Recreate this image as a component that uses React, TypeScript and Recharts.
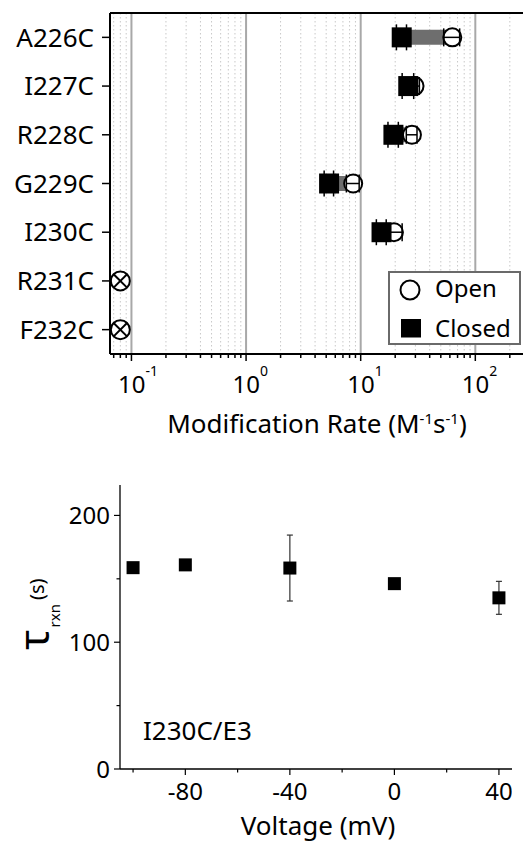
import { ScatterChart, Scatter, XAxis, YAxis, ErrorBar, ReferenceLine, CartesianGrid, Legend } from "recharts"

const FONT = "'Noto Sans', sans-serif"

// top panel: modification rates (M-1 s-1)
const mutants = ["A226C", "I227C", "R228C", "G229C", "I230C", "R231C", "F232C"]
const closedRate = [22.8, 26, 19.3, 5.3, 15.2]
const closedErr = [2.3, 3, 2, 0.5, 1.5]
const openRate = [63, 29.5, 28, 8.6, 19.5]
const openErr = [10, 3, 3, 1.1, 3.5]
const noRate = [0.08, 0.08] // R231C, F232C: no modification
const decades = [0.1, 1, 10, 100]
const minorTicks = [0.07, 0.08, 0.09, 0.2, 0.3, 0.4, 0.5, 0.6, 0.7, 0.8, 0.9, 2, 3, 4, 5, 6, 7, 8, 9, 20, 30, 40, 50, 60, 70, 80, 90, 200]

// bottom panel: tau vs voltage
const voltage = [-100, -80, -40, 0, 40]
const tau = [158.8, 161, 158.5, 146.2, 135]
const tauErr = [1, 2.5, 26, 1.5, 13]
const voltTicks = [-100, -80, -60, -40, -20, 0, 20, 40]
const voltLabels = [-80, -40, 0, 40]
const tauTicks = [0, 50, 100, 150, 200]
const tauLabels = [0, 100, 200]

const closedData = closedRate.map((rate, i) => ({ row: i, rate, err: closedErr[i] }))
const openData = openRate.map((rate, i) => ({ row: i, rate }))
const noData = noRate.map((rate, i) => ({ row: closedRate.length + i, rate }))
const spans = closedRate.map((rate, i) => [
    { row: i, rate },
    { row: i, rate: openRate[i] },
])
// open error bars sit on top of the white circles, so they are drawn as their own series
const openBars = openRate.map((rate, i) => [
    { row: i, rate: rate - openErr[i] },
    { row: i, rate: rate + openErr[i] },
])
const tauData = voltage.map((v, i) => ({ v, tau: tau[i], err: tauErr[i] }))

const NoDot = () => <g />

const OpenDot = ({ cx, cy }: any) => <circle cx={cx} cy={cy} r={9} fill="#fff" stroke="#000" strokeWidth={2} />

const CapTick = ({ cx, cy }: any) => <line x1={cx} x2={cx} y1={cy - 9} y2={cy + 9} stroke="#000" strokeWidth={1.5} />

const ClosedDot = ({ cx, cy }: any) => <rect x={cx - 10} y={cy - 10} width={20} height={20} fill="#000" />

const CrossDot = ({ cx, cy }: any) => {
    const d = 6.7
    return (
        <g stroke="#000" strokeWidth={2}>
            <circle cx={cx} cy={cy} r={9.5} fill="#fff" />
            <line x1={cx - d} y1={cy - d} x2={cx + d} y2={cy + d} />
            <line x1={cx - d} y1={cy + d} x2={cx + d} y2={cy - d} />
        </g>
    )
}

const SmallSquare = ({ cx, cy }: any) => <rect x={cx - 6.5} y={cy - 6.5} width={13} height={13} fill="#000" />

const LogTick = ({ x, y, payload }: any) => {
    const v = payload.value
    const major = decades.includes(v)
    return (
        <g>
            <line x1={x} x2={x} y1={y} y2={y + (major ? 7 : 4)} stroke="#000" strokeWidth={1.5} />
            {major && (
                <text x={x - 13.5} y={y + 39} fontSize={24} fontFamily={FONT} fill="#000">
                    10
                    <tspan dy={-17} fontSize={14}>
                        {Math.round(Math.log10(v))}
                    </tspan>
                </text>
            )}
        </g>
    )
}

const RateLabel = () => (
    <text x={317} y={433} textAnchor="middle" fontSize={26} fontFamily={FONT} fill="#000">
        Modification Rate (M
        <tspan dy={-9} fontSize={15}>-1</tspan>
        <tspan dy={9}>s</tspan>
        <tspan dy={-9} fontSize={15}>-1</tspan>
        <tspan dy={9}>)</tspan>
    </text>
)

const LegendBox = () => (
    <div style={{ width: 133, height: 74, boxSizing: "border-box", border: "2px solid #6a6a6a", background: "#fff" }}>
        <svg width={129} height={70} style={{ display: "block", overflow: "visible" }}>
            <circle cx={20} cy={17} r={9.5} fill="#fff" stroke="#000" strokeWidth={2} />
            <text x={45} y={24} fontSize={24} fontFamily={FONT} fill="#000">Open</text>
            <rect x={11} y={46} width={20} height={18.5} fill="#000" />
            <text x={45} y={64} fontSize={24} fontFamily={FONT} fill="#000">Closed</text>
        </svg>
    </div>
)

const VoltTick = ({ x, y, payload }: any) => {
    const major = voltLabels.includes(payload.value)
    return (
        <g>
            <line x1={x} x2={x} y1={y} y2={y + (major ? 6 : 3.5)} stroke="#000" strokeWidth={1.2} />
            {major && (
                <text x={x} y={y + 31} textAnchor="middle" fontSize={24} fontFamily={FONT} fill="#000">
                    {payload.value}
                </text>
            )}
        </g>
    )
}

const TauTick = ({ x, y, payload }: any) => {
    const major = tauLabels.includes(payload.value)
    return (
        <g>
            <line x1={x - (major ? 6 : 3.5)} x2={x} y1={y} y2={y} stroke="#000" strokeWidth={1.2} />
            {major && (
                <text x={x - 10} y={y + 8.5} textAnchor="end" fontSize={24} fontFamily={FONT} fill="#000">
                    {payload.value}
                </text>
            )}
        </g>
    )
}

const TauLabel = () => (
    <text transform="translate(44, 206) rotate(-90)" fontFamily={FONT} fill="#000" fontSize={20}>
        <tspan fontSize={42} dy={5}>τ</tspan>
        <tspan fontSize={15} dy={11} dx={2}>rxn</tspan>
        <tspan dy={-16} dx={4}>(s)</tspan>
    </text>
)

const VoltLabel = () => (
    <text x={318} y={391} textAnchor="middle" fontSize={26} fontFamily={FONT} fill="#000">
        Voltage (mV)
    </text>
)

export default function App() {
    return (
        <div style={{ position: "absolute", left: 0, top: 0, width: 523, height: 842, overflow: "hidden", background: "#fff" }}>
            <ScatterChart width={530} height={444} margin={{ top: 13, right: 0, bottom: 0, left: 0 }}>
                <CartesianGrid horizontal={false} verticalValues={minorTicks} stroke="#c8c8c8" strokeDasharray="1.5 2.5" />
                <CartesianGrid horizontal={false} verticalValues={decades} stroke="#a8a8a8" strokeWidth={2} />
                <XAxis
                    dataKey="rate"
                    type="number"
                    scale="log"
                    domain={[0.065, 300]}
                    allowDataOverflow
                    ticks={[...minorTicks, ...decades]}
                    interval={0}
                    tick={LogTick}
                    tickLine={false}
                    tickSize={0}
                    tickMargin={0}
                    height={90}
                    axisLine={{ stroke: "#000", strokeWidth: 2 }}
                    label={{ content: RateLabel }}
                />
                <YAxis
                    dataKey="row"
                    type="number"
                    domain={[-0.5, 6.5]}
                    reversed
                    ticks={mutants.map((_, i) => i)}
                    interval={0}
                    tickFormatter={(i: number) => mutants[i]}
                    width={110}
                    tickSize={8}
                    tickMargin={8}
                    tick={{ fontSize: 26, fill: "#000", fontFamily: FONT }}
                    tickLine={{ stroke: "#000", strokeWidth: 1.5 }}
                    axisLine={{ stroke: "#000", strokeWidth: 2 }}
                />
                <ReferenceLine y={-0.5} stroke="#000" strokeWidth={2} />
                {spans.map((span, i) => (
                    <Scatter
                        key={"span" + i}
                        data={span}
                        line={{ stroke: "#6e6e6e", strokeWidth: 15 }}
                        shape={NoDot}
                        isAnimationActive={false}
                    />
                ))}
                <Scatter name="Open" data={openData} shape={OpenDot} isAnimationActive={false} />
                {openBars.map((bar, i) => (
                    <Scatter
                        key={"bar" + i}
                        data={bar}
                        line={{ stroke: "#000", strokeWidth: 1.5 }}
                        shape={CapTick}
                        isAnimationActive={false}
                    />
                ))}
                <Scatter name="Closed" data={closedData} shape={ClosedDot} isAnimationActive={false}>
                    <ErrorBar dataKey="err" direction="x" width={13} stroke="#000" strokeWidth={1.5} />
                </Scatter>
                <Scatter data={noData} shape={CrossDot} isAnimationActive={false} />
                <Legend
                    layout="horizontal"
                    verticalAlign="middle"
                    align="center"
                    content={LegendBox}
                    wrapperStyle={{ left: 388, top: 271, width: 133, height: 74 }}
                />
            </ScatterChart>

            <div style={{ position: "absolute", left: 0, top: 444 }}>
                <ScatterChart width={512} height={398} margin={{ top: 41, right: 0, bottom: 0, left: 0 }}>
                    <XAxis
                        dataKey="v"
                        type="number"
                        domain={[-105, 45]}
                        allowDataOverflow
                        ticks={voltTicks}
                        interval={0}
                        tick={VoltTick}
                        tickLine={false}
                        tickSize={0}
                        tickMargin={0}
                        height={73}
                        axisLine={{ stroke: "#000", strokeWidth: 1.3 }}
                        label={{ content: VoltLabel }}
                    />
                    <YAxis
                        dataKey="tau"
                        type="number"
                        domain={[0, 224]}
                        allowDataOverflow
                        ticks={tauTicks}
                        interval={0}
                        tick={TauTick}
                        tickLine={false}
                        tickSize={0}
                        tickMargin={0}
                        width={120}
                        axisLine={{ stroke: "#000", strokeWidth: 1.3 }}
                        label={{ content: TauLabel }}
                    />
                    <Scatter data={tauData} shape={SmallSquare} isAnimationActive={false}>
                        <ErrorBar dataKey="err" direction="y" width={3} stroke="#333" strokeWidth={1.2} />
                    </Scatter>
                </ScatterChart>
                <div
                    style={{
                        position: "absolute",
                        left: 143,
                        top: 273,
                        fontFamily: FONT,
                        fontSize: 26,
                        lineHeight: "26px",
                        color: "#000",
                        whiteSpace: "nowrap",
                    }}
                >
                    I230C/E3
                </div>
            </div>
        </div>
    )
}
